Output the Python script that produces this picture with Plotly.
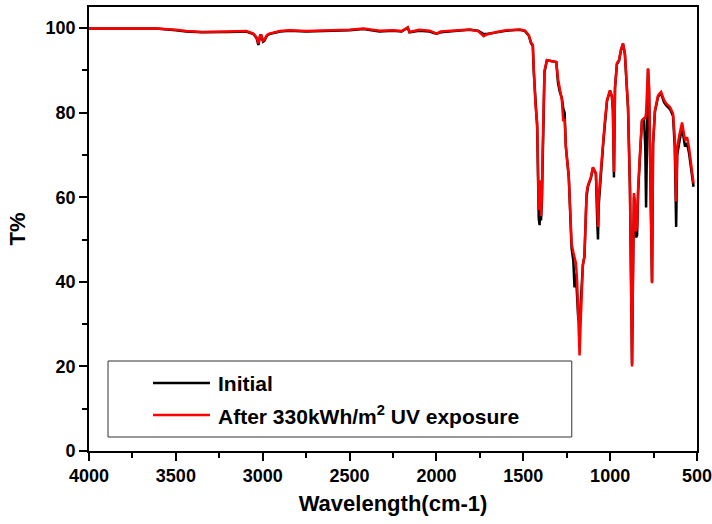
import plotly.graph_objects as go

# Wavenumber (cm-1), descending
wavenumber = [4000, 3960, 3800, 3614, 3500, 3441, 3350, 3285, 3200, 3095, 3054, 3035, 3025, 3015, 3008,
              2998, 2991, 2975, 2962, 2900, 2847, 2750, 2616, 2500, 2420, 2380, 2328, 2250, 2200, 2165,
              2155, 2100, 2039, 2010, 1999, 1975, 1941, 1880, 1809, 1760, 1740, 1728, 1710, 1680, 1653,
              1600, 1520, 1490, 1468, 1455, 1445, 1440, 1430, 1420, 1411, 1406, 1401, 1398, 1393, 1388,
              1378, 1364, 1336, 1310, 1300, 1290, 1278, 1270, 1262, 1255, 1238, 1228, 1222, 1212, 1205,
              1197, 1190, 1184, 1176, 1170, 1163, 1157, 1148, 1143, 1136, 1128, 1111, 1099, 1082, 1074,
              1070, 1066, 1053, 1042, 1036, 1030, 1018, 1001, 990, 984, 978, 972, 961, 949, 938,
              926, 915, 897, 886, 878, 874, 869, 863, 857, 851, 845, 839, 828, 817, 805,
              798, 793, 787, 782, 776, 771, 765, 759, 755, 753, 742, 724, 707, 690, 678,
              655, 638, 628, 620, 614, 600, 586, 569, 557, 546, 528, 520]

# Transmittance (%) - initial sample (black)
t_initial = [99.9, 99.9, 99.9, 99.9, 99.5, 99.2, 99.0, 99.0, 99.1, 99.2, 98.6, 97.6, 96.0, 98.1, 98.2,
             96.8, 97.0, 98.3, 98.6, 99.2, 99.4, 99.2, 99.3, 99.5, 99.8, 99.6, 99.2, 99.4, 99.2, 100.1,
             99.0, 99.4, 99.2, 98.8, 98.7, 99.0, 99.2, 99.4, 99.6, 99.4, 98.9, 98.6, 98.6, 98.9, 99.0,
             99.4, 99.6, 99.3, 98.2, 96.4, 95.8, 90.0, 81.5, 76.5, 55.0, 53.4, 62.0, 54.5, 59.0, 70.5,
             89.5, 92.4, 92.2, 92.0, 87.0, 85.0, 83.5, 81.0, 80.0, 72.0, 64.7, 55.0, 48.0, 45.0, 38.7,
             42.0, 36.0, 31.6, 30.0, 35.0, 42.0, 44.0, 46.0, 52.0, 60.0, 62.5, 64.5, 67.0, 65.5, 54.0,
             50.0, 58.0, 66.5, 71.5, 74.5, 78.0, 82.8, 85.2, 83.8, 80.5, 64.7, 85.8, 91.5, 92.3, 94.7,
             96.3, 93.8, 81.0, 62.0, 35.0, 20.5, 40.0, 60.0, 58.0, 50.5, 51.0, 61.0, 70.0, 78.0, 78.5,
             72.0, 57.6, 85.0, 90.3, 85.5, 72.5, 55.0, 40.0, 60.0, 72.5, 80.3, 83.8, 84.6, 82.5, 81.8,
             80.8, 79.2, 72.0, 53.0, 70.0, 73.5, 76.5, 72.0, 72.8, 70.5, 65.0, 62.5]

# Transmittance (%) - after 330 kWh/m2 UV exposure (red)
t_after = [99.9, 99.9, 99.9, 99.9, 99.6, 99.3, 99.1, 99.1, 99.2, 99.3, 98.7, 97.8, 96.4, 98.3, 98.3,
           97.0, 97.2, 98.4, 98.7, 99.3, 99.5, 99.3, 99.4, 99.6, 99.9, 99.7, 99.4, 99.5, 99.3, 100.2,
           99.1, 99.6, 99.4, 98.9, 98.7, 99.2, 99.3, 99.5, 99.7, 99.3, 98.6, 98.1, 98.5, 98.9, 99.1,
           99.5, 99.7, 99.4, 98.3, 96.6, 96.0, 90.5, 82.0, 77.5, 57.0, 58.0, 64.0, 55.5, 60.0, 71.8,
           90.0, 92.4, 92.2, 92.0, 88.0, 86.0, 83.0, 78.0, 78.5, 72.0, 64.7, 55.0, 49.0, 47.0, 46.0,
           44.4, 40.0, 30.0, 22.6, 30.0, 40.0, 44.0, 46.0, 52.0, 61.0, 62.8, 64.7, 67.1, 65.7, 58.0,
           53.0, 60.0, 67.0, 71.8, 74.7, 78.2, 83.0, 85.3, 84.0, 81.0, 66.0, 86.0, 91.7, 92.4, 94.8,
           96.4, 94.0, 81.3, 62.4, 35.0, 20.0, 40.0, 61.0, 59.0, 52.0, 53.0, 62.0, 70.4, 78.2, 78.7,
           78.7, 80.0, 86.0, 90.5, 86.0, 73.0, 55.0, 39.7, 60.0, 72.8, 80.6, 84.1, 84.9, 83.0, 82.2,
           81.3, 79.8, 74.0, 59.0, 71.8, 75.0, 77.7, 73.5, 74.2, 71.8, 66.4, 63.3]

x_ticks = [4000, 3500, 3000, 2500, 2000, 1500, 1000, 500]
y_ticks = [0, 20, 40, 60, 80, 100]
series_names = ["Initial", "After 330kWh/m<sup>2</sup> UV exposure"]

FONT = "Liberation Sans, Arial, sans-serif"

fig = go.Figure()
fig.add_trace(go.Scatter(x=wavenumber, y=t_initial, mode="lines", name=series_names[0],
                         line=dict(color="#000000", width=2.5), showlegend=False))
fig.add_trace(go.Scatter(x=wavenumber, y=t_after, mode="lines", name=series_names[1],
                         line=dict(color="#ff0000", width=2.5), showlegend=False))

# Manual legend (box, sample lines, labels)
lx0, lx1, ly0, ly1 = 0.0313, 0.794, 0.0315, 0.2027
fig.add_shape(type="rect", xref="paper", yref="paper", x0=lx0, x1=lx1, y0=ly0, y1=ly1,
              line=dict(color="#333333", width=1), fillcolor="white", layer="above")
for yy, col, name in [(0.153, "#000000", series_names[0]), (0.081, "#ff0000", series_names[1])]:
    fig.add_shape(type="line", xref="paper", yref="paper", x0=0.1053, x1=0.199, y0=yy, y1=yy,
                  line=dict(color=col, width=2.5), layer="above")
    fig.add_annotation(xref="paper", yref="paper", x=0.2089, y=yy, xanchor="left", yanchor="middle",
                       text=name, showarrow=False,
                       font=dict(family=FONT, size=21, color="black", weight="bold"))

axis_common = dict(showline=True, linecolor="black", linewidth=1.6, mirror=True, showgrid=False,
                   zeroline=False, ticks="outside", ticklen=8, tickwidth=1.5, tickcolor="black",
                   automargin=False, ticklabeloverflow="allow",
                   tickfont=dict(family=FONT, size=18, color="black", weight="bold"))

fig.update_layout(
    width=712, height=524,
    margin=dict(l=89, r=15, t=7, b=73),
    paper_bgcolor="white", plot_bgcolor="white",
    font=dict(family=FONT, color="black"),
    xaxis=dict(range=[4000, 500], tickvals=x_ticks,
               minor=dict(ticks="outside", ticklen=5, tickwidth=1.5, tickcolor="black",
                          dtick=250, tick0=250),
               title=dict(text="Wavelength(cm-1)", standoff=10,
                          font=dict(family=FONT, size=22, color="black", weight="bold")),
               **axis_common),
    yaxis=dict(range=[0, 105], tickvals=y_ticks,
               minor=dict(ticks="outside", ticklen=5, tickwidth=1.5, tickcolor="black",
                          dtick=10, tick0=0),
               title=dict(text="T%", standoff=14,
                          font=dict(family=FONT, size=22, color="black", weight="bold")),
               **axis_common),
)

# Remove the default page margin so the 712x524 figure fills the window exactly.
fig.write_html("out.html",
               config={"displayModeBar": False},
               post_script="document.body.style.margin='0';document.body.style.overflow='hidden';")
